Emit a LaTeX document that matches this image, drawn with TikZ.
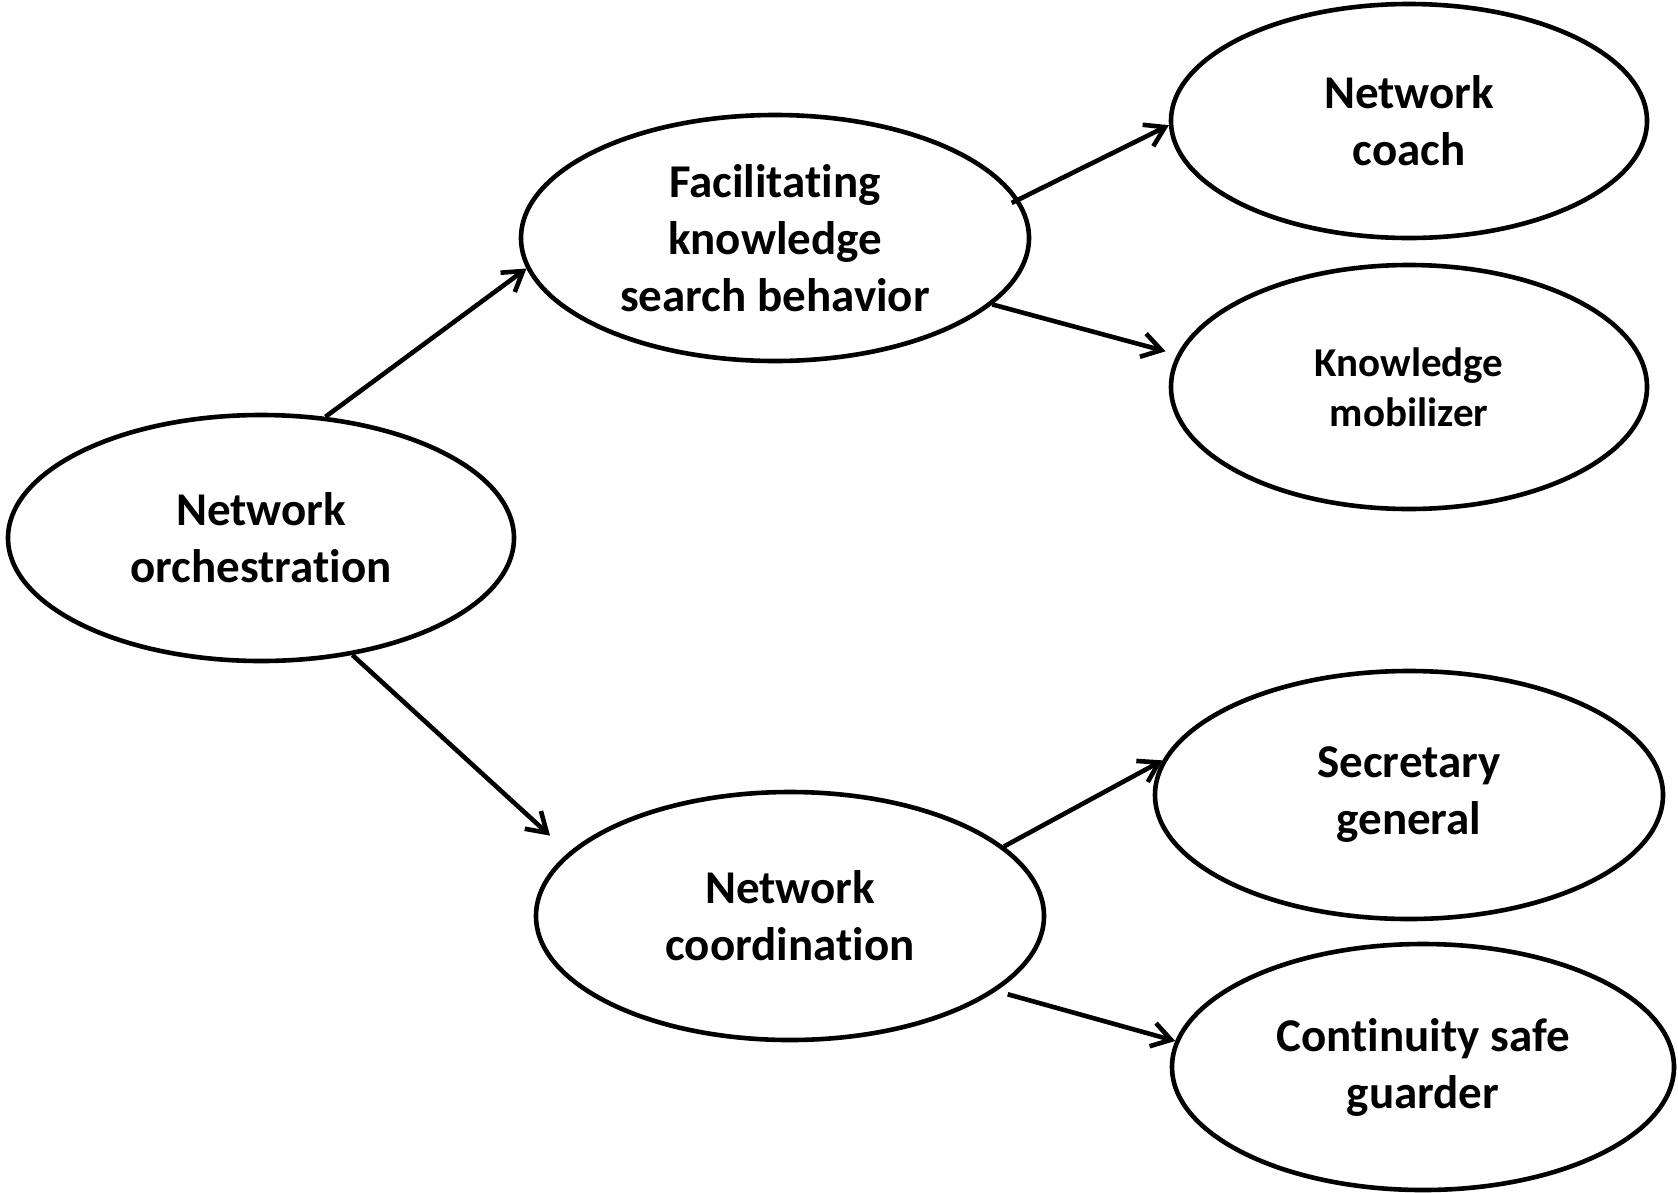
\documentclass[tikz,border=0pt]{standalone}
\usepackage{fontspec}
\setmainfont{Carlito}[Ligatures={NoCommon,NoContextual},RawFeature={-liga;-clig;-calt}]
\usetikzlibrary{shapes.geometric,arrows.meta}
\begin{document}
\begin{tikzpicture}[x=1pt,y=-1pt,
  oval/.style={draw, ellipse, line width=4.6pt, inner sep=0pt, align=center,
    font=\bfseries\fontsize{47}{57}\selectfont},
  smalltext/.style={font=\bfseries\fontsize{41}{50}\selectfont},
  link/.style={line width=4.6pt, -{Straight Barb[length=19pt,width=24pt]}}]
\useasboundingbox (0,0) rectangle (1678,1192);
\node[oval, minimum width=506pt, minimum height=246pt] (orch) at (261,538) {Network\\orchestration};
\node[oval, minimum width=508pt, minimum height=246pt] (facil) at (775,238) {Facilitating\\knowledge\\search behavior};
\node[oval, minimum width=476pt, minimum height=234pt] (coach) at (1409,121) {Network\\coach};
\node[oval, smalltext, minimum width=476pt, minimum height=244pt] (mobil) at (1409,387) {Knowledge\\mobilizer};
\node[oval, minimum width=508pt, minimum height=248pt] (coord) at (790,916) {Network\\coordination};
\node[oval, minimum width=508pt, minimum height=248pt] (secr) at (1409,795) {Secretary\\general};
\node[oval, minimum width=502pt, minimum height=246pt] (cont) at (1423,1067) {Continuity safe\\guarder};
\draw[link] (orch.62) -- (facil.187);
\draw[link, shorten >=25pt] (orch.-52) -- (coord.164);
\draw[link, shorten <=-8pt] (facil.9) -- (coach.181);
\draw[link, shorten >=12pt] (facil.-17) -- (mobil.172);
\draw[link] (coord.18) -- (secr.172);
\draw[link, shorten <=12pt] (coord.-20) -- (cont.174);
\end{tikzpicture}
\end{document}
